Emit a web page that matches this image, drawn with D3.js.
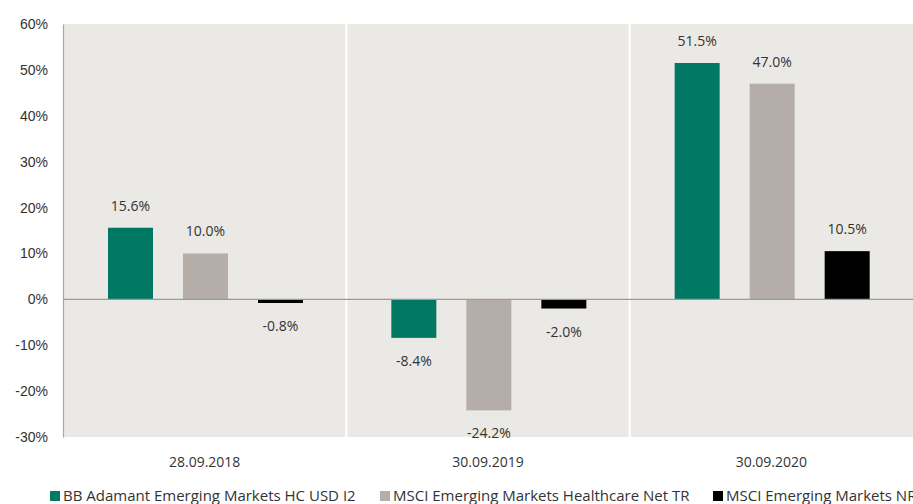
<!DOCTYPE html>
<html>
<head>
<meta charset="utf-8">
<script src="https://cdn.jsdelivr.net/npm/d3@7"></script>
<style>
  body { margin: 0; background: #fff; }
  svg { display: block; font-family: "Open Sans", sans-serif; }
</style>
</head>
<body>
<div id="chart"></div>
<script>
const dates = ["28.09.2018", "30.09.2019", "30.09.2020"]
const series = [
    "BB Adamant Emerging Markets HC USD I2",
    "MSCI Emerging Markets Healthcare Net TR",
    "MSCI Emerging Markets NR"
]
const fundValues = [15.6, -8.4, 51.5]
const healthValues = [10.0, -24.2, 47.0]
const emValues = [-0.8, -2.0, 10.5]
const yTicks = [60, 50, 40, 30, 20, 10, 0, -10, -20, -30]
const colors = ["#007864", "#b5aea8", "#000000"]

const width = 913, height = 504
const margin = {top: 24, right: 0, bottom: 67, left: 63}

const rows = []
dates.forEach((d, i) => {
    rows.push({date: d, s: series[0], v: fundValues[i]})
    rows.push({date: d, s: series[1], v: healthValues[i]})
    rows.push({date: d, s: series[2], v: emValues[i]})
})

const svg = d3.select("#chart")
    .append("svg")
    .attr("width", width)
    .attr("height", height)

const x0 = d3.scaleBand()
    .domain(dates)
    .range([margin.left, width - margin.right])

const x1 = d3.scaleBand()
    .domain(series)
    .range([30, 255])
    .paddingInner(0.4)
    .paddingOuter(0.2)

const y = d3.scaleLinear()
    .domain([-30, 60])
    .range([height - margin.bottom, margin.top])

const color = d3.scaleOrdinal().domain(series).range(colors)

// plot background
svg.append("rect")
    .attr("x", margin.left)
    .attr("y", y(60))
    .attr("width", width - margin.right - margin.left)
    .attr("height", y(-30) - y(60))
    .attr("fill", "#ebe9e5")

// white separators between groups
svg.selectAll(".sep")
    .data(dates.slice(1))
    .enter().append("line")
    .attr("class", "sep")
    .attr("x1", d => x0(d))
    .attr("x2", d => x0(d))
    .attr("y1", y(60))
    .attr("y2", y(-30))
    .attr("stroke", "#fff")
    .attr("stroke-width", 2)

// y axis
const yAxis = svg.append("g")
    .attr("transform", `translate(${margin.left},0)`)
    .call(d3.axisLeft(y).tickValues(yTicks).tickSize(0).tickPadding(15).tickFormat(d => d + "%"))
yAxis.select(".domain").attr("stroke", "#a8a8a8").attr("stroke-width", 1.2)
yAxis.selectAll("text")
    .attr("fill", "#333")
    .style("font-size", "14px")

// bars
svg.selectAll(".bar")
    .data(rows)
    .enter().append("rect")
    .attr("class", "bar")
    .attr("x", d => x0(d.date) + x1(d.s))
    .attr("width", x1.bandwidth())
    .attr("y", d => y(Math.max(0, d.v)))
    .attr("height", d => Math.abs(y(d.v) - y(0)))
    .attr("fill", d => color(d.s))

// zero line
svg.append("line")
    .attr("x1", margin.left)
    .attr("x2", width - margin.right)
    .attr("y1", y(0))
    .attr("y2", y(0))
    .attr("stroke", "#9a9a9a")
    .attr("stroke-width", 1.2)

// value labels
svg.selectAll(".val")
    .data(rows)
    .enter().append("text")
    .attr("class", "val")
    .attr("x", d => x0(d.date) + x1(d.s) + x1.bandwidth() / 2)
    .attr("y", d => d.v >= 0 ? y(d.v) - 17 : y(d.v) + 28)
    .attr("text-anchor", "middle")
    .attr("fill", "#333")
    .style("font-size", "14px")
    .text(d => d.v.toFixed(1) + "%")

// category labels
svg.selectAll(".cat")
    .data(dates)
    .enter().append("text")
    .attr("class", "cat")
    .attr("x", d => x0(d) + x0.bandwidth() / 2)
    .attr("y", y(-30) + 30)
    .attr("text-anchor", "middle")
    .attr("fill", "#333")
    .style("font-size", "14px")
    .text(d => d)

// legend
const legendX = [50, 380, 713]
const legend = svg.selectAll(".legend")
    .data(series)
    .enter().append("g")
    .attr("class", "legend")
    .attr("transform", (d, i) => `translate(${legendX[i]},${height - 8})`)

legend.append("rect")
    .attr("x", 0)
    .attr("y", -5)
    .attr("width", 10)
    .attr("height", 10)
    .attr("fill", d => color(d))

legend.append("text")
    .attr("x", 13)
    .attr("y", 5)
    .attr("fill", "#333")
    .style("font-size", "15px")
    .text(d => d)
</script>
</body>
</html>
